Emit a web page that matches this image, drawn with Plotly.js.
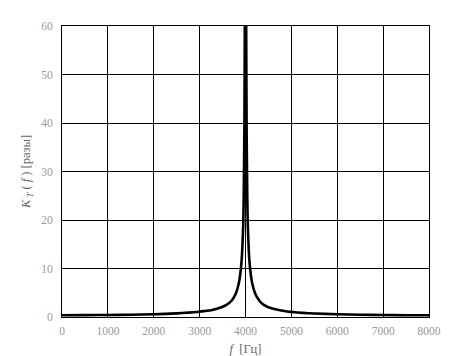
<!DOCTYPE html>
<html>
<head>
<meta charset="utf-8">
<script src="https://cdn.plot.ly/plotly-3.0.1.min.js"></script>
<style>html,body{margin:0;padding:0;background:#fff;}#chart{width:473px;height:356px;}</style>
</head>
<body>
<div id="chart"></div>
<script>
// Frequency [Hz]
var freq = [0, 500, 1000, 1500, 2000, 2250, 2500, 2750, 3000, 3125, 3250, 3375, 3500, 3575, 3650, 3700, 3750, 3800, 3850, 3875, 3900, 3925, 3950, 3960, 3975, 3980, 3990, 4000,
            4010, 4020, 4025, 4040, 4050, 4075, 4100, 4125, 4150, 4200, 4250, 4300, 4350, 4400, 4500, 4625, 4750, 4875, 5000, 5250, 5500, 6000, 6500, 7000, 7500, 8000];
// K_T(f) [times]
var gain = [0.35, 0.38, 0.42, 0.47, 0.56, 0.64, 0.75, 0.9, 1.1, 1.25, 1.4, 1.7, 2.1, 2.45, 2.95, 3.4, 4.1, 5.1, 6.8, 8.1, 10, 13, 19, 24, 38, 48, 70, 100,
            70, 48, 38, 24, 19, 13, 10, 8.1, 6.8, 5.1, 4.1, 3.4, 2.85, 2.5, 2.0, 1.65, 1.4, 1.2, 1.05, 0.85, 0.72, 0.56, 0.46, 0.4, 0.37, 0.35];
var xTicks = [0, 1000, 2000, 3000, 4000, 5000, 6000, 7000, 8000];
var yTicks = [0, 10, 20, 30, 40, 50, 60];

var trace = {
  x: freq, y: gain, type: 'scatter', mode: 'lines',
  line: {color: '#000', width: 2.6, shape: 'spline', smoothing: 0.5},
  hoverinfo: 'skip'
};
var tf = {family: 'Liberation Serif, serif', size: 11.5, color: '#999'};
var layout = {
  width: 473, height: 356,
  margin: {l: 62, r: 44, t: 26, b: 39},
  paper_bgcolor: '#fff', plot_bgcolor: '#fff',
  showlegend: false,
  font: {family: 'Liberation Serif, serif', size: 11, color: '#888'},
  xaxis: {
    range: [0, 8000], tickvals: xTicks, ticktext: xTicks.map(String),
    showgrid: true, gridcolor: '#000', gridwidth: 1,
    showline: true, linecolor: '#000', linewidth: 1, mirror: true,
    zeroline: false, ticks: 'outside', ticklen: 3, tickcolor: 'rgba(0,0,0,0)',
    tickfont: tf,
    title: {text: '<i>f</i>  [Гц]', font: {family: 'Liberation Serif, serif', size: 12.5, color: '#666'}, standoff: 8}
  },
  yaxis: {
    range: [0, 60], tickvals: yTicks, ticktext: yTicks.map(String),
    showgrid: true, gridcolor: '#000', gridwidth: 1,
    showline: true, linecolor: '#000', linewidth: 1, mirror: true,
    zeroline: false, ticks: 'outside', ticklen: 6, tickcolor: 'rgba(0,0,0,0)',
    tickfont: tf,
    title: {text: '<i>K</i><sub> <i>T</i></sub> ( <i>f</i> ) [разы]', font: {family: 'Liberation Serif, serif', size: 12.5, color: '#666'}, standoff: 7}
  }
};
Plotly.newPlot('chart', [trace], layout, {staticPlot: true, displayModeBar: false});
</script>
</body>
</html>
